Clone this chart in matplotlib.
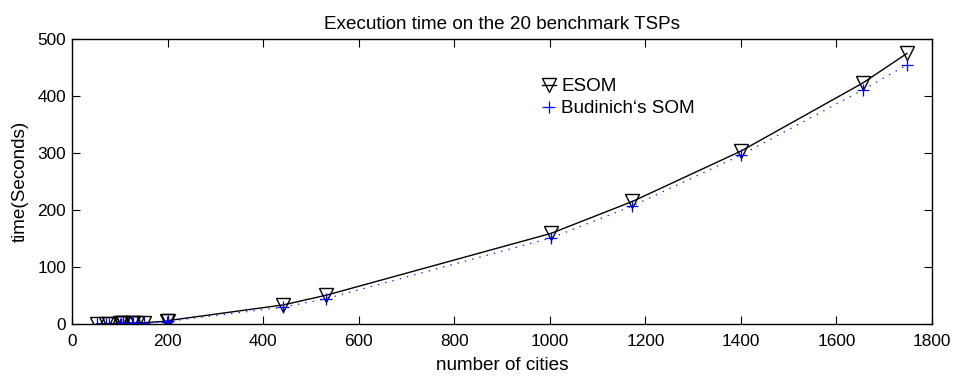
import matplotlib
matplotlib.use("Agg")
import matplotlib.pyplot as plt

plt.rcParams['font.family'] = ['Liberation Sans', 'DejaVu Sans']

# number of cities in the 20 benchmark TSPs
cities = [51, 70, 76, 100, 101, 105, 107, 124, 127, 136, 150, 198, 200,
          442, 532, 1002, 1173, 1400, 1655, 1748]
# execution time in seconds
esom_time = [0.8, 1.1, 1.2, 1.6, 1.7, 1.8, 1.9, 2.2, 2.3, 2.6, 2.8, 5.5, 6.5,
             34, 51, 159, 215, 303, 422, 474]
som_time = [0.6, 0.9, 1.0, 1.3, 1.4, 1.5, 1.6, 1.9, 2.0, 2.2, 2.4, 4.5, 5.2,
            30, 45, 151, 207, 296, 410, 454]

fig = plt.figure(figsize=(9.56, 3.78), dpi=100)
ax = fig.add_axes([0.0757, 0.142, 0.899, 0.756])

ax.plot(cities, esom_time, color='black', linewidth=1.0, marker='v',
        markersize=9.5, markerfacecolor='none', markeredgecolor='black',
        markeredgewidth=1.0, label='ESOM')
ax.plot(cities, som_time, color='blue', linewidth=0.9, linestyle=(0, (1, 5)),
        marker='+', markersize=8, markeredgewidth=0.9, label="Budinich‘s SOM")

ax.set_xlim(0, 1800)
ax.set_ylim(0, 500)
ax.set_xticks(range(0, 1801, 200))
ax.set_yticks(range(0, 501, 100))
ax.tick_params(direction='in', top=True, right=True, labelsize=12.4, length=6,
               width=0.8)
ax.tick_params(axis='x', pad=7)
ax.tick_params(axis='y', pad=4.5)
for s in ax.spines.values():
    s.set_linewidth(1.0)

ax.set_title("Execution time on the 20 benchmark TSPs", fontsize=13.6, pad=7)
ax.set_xlabel("number of cities", fontsize=13.6, labelpad=6)
ax.set_ylabel("time(Seconds)", fontsize=13.6, labelpad=6)

ax.legend(loc='upper left', bbox_to_anchor=(0.547, 0.862), frameon=False,
          fontsize=13.6, handlelength=0.7, handletextpad=0.3,
          labelspacing=0.25, borderpad=0, borderaxespad=0)

fig.savefig("out.png", dpi=100)
